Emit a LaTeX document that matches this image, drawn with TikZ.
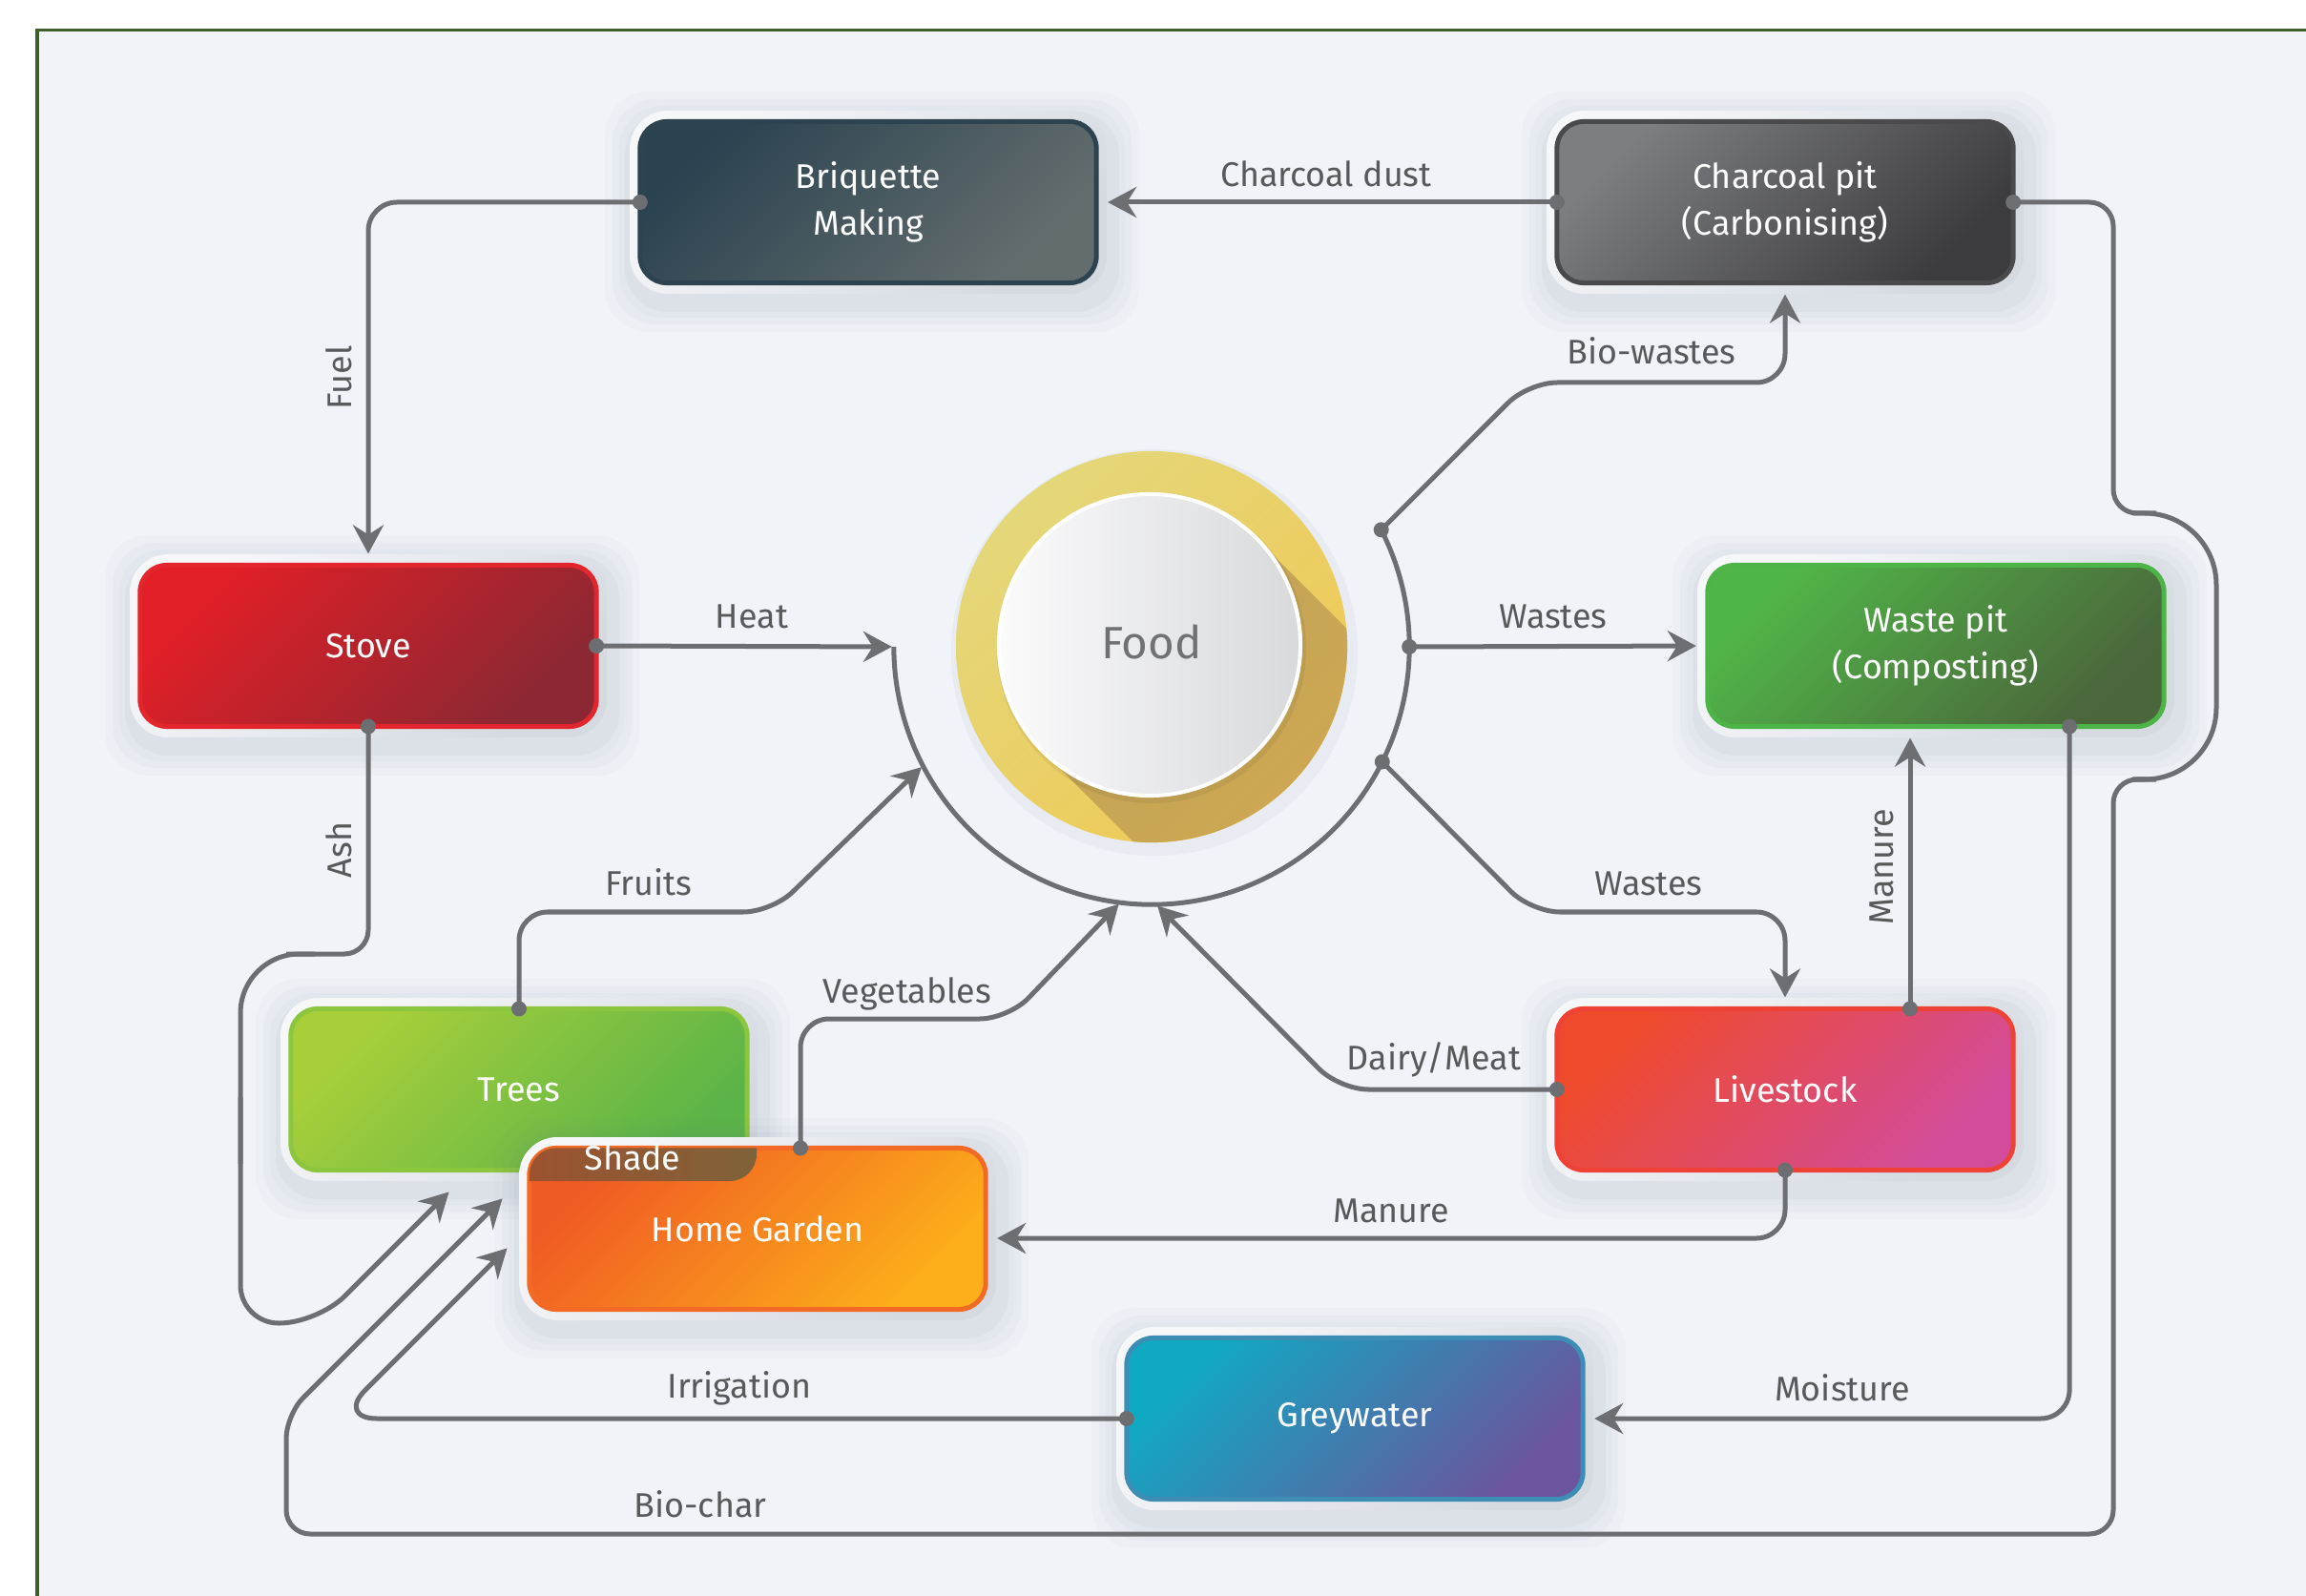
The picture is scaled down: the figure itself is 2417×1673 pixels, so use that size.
\documentclass[tikz,border=0pt]{standalone}
\usepackage{fontspec}
\setmainfont{Fira Sans}
\usetikzlibrary{arrows.meta,calc}
\definecolor{bgc}{HTML}{F0F4F8}
\definecolor{framec}{HTML}{3E5E2C}
\definecolor{linec}{HTML}{6D6E71}
\definecolor{labc}{HTML}{58595B}
\definecolor{haloA}{HTML}{F6F7F9}
\definecolor{haloB}{HTML}{D5DAE1}
\definecolor{shadowc}{HTML}{5A6A85}
\definecolor{yelA}{HTML}{E4D77A}
\definecolor{yelB}{HTML}{F1E56B}
\definecolor{yelC}{HTML}{F0C955}
\definecolor{shdA}{HTML}{BFA457}
\definecolor{shdB}{HTML}{D9AA50}
\definecolor{plateA}{HTML}{FBFBFC}
\definecolor{plateB}{HTML}{D8D9DB}
\definecolor{foodc}{HTML}{707173}
\definecolor{tabA}{HTML}{A24F2D}
\definecolor{tabB}{HTML}{7F6239}
\definecolor{brqA}{HTML}{2B4350}\definecolor{brqB}{HTML}{646D6E}\definecolor{brqD}{HTML}{2E4350}
\definecolor{chaA}{HTML}{7D7E81}\definecolor{chaB}{HTML}{3C3C3F}\definecolor{chaD}{HTML}{4A4A4D}
\definecolor{stoA}{HTML}{E21F26}\definecolor{stoB}{HTML}{8B2833}\definecolor{stoD}{HTML}{E3262D}
\definecolor{wpiA}{HTML}{50B548}\definecolor{wpiB}{HTML}{4B663B}\definecolor{wpiD}{HTML}{4DB447}
\definecolor{treA}{HTML}{A8CF3A}\definecolor{treB}{HTML}{5BB448}\definecolor{treD}{HTML}{8CC63F}
\definecolor{hgaA}{HTML}{F05A24}\definecolor{hgaB}{HTML}{FCAF1A}\definecolor{hgaD}{HTML}{F26A26}
\definecolor{livA}{HTML}{EF4A2B}\definecolor{livB}{HTML}{D24C9B}\definecolor{livD}{HTML}{EE4237}
\definecolor{greA}{HTML}{10A9C2}\definecolor{greB}{HTML}{6B559E}\definecolor{greD}{HTML}{3D8DB5}
\newcommand\boxfont{\fontsize{10.2}{13.9}\selectfont}
\newcommand\labfont{\fontsize{10.2}{12}\selectfont}
% halo + soft shadow behind a box centred at (#1,#2)
\newcommand\halobox[2]{%
  \foreach \e/\o in {30/0.025, 22/0.03, 15/0.035, 9/0.04}{%
    \fill[shadowc, opacity=\o, rounded corners=0.45cm]
      (#1-250-\e+4,#2-96-\e+10) rectangle (#1+250+\e+4,#2+96+\e+10);}
  \shade[top color=haloA, bottom color=haloB, shading angle=45, rounded corners=0.4cm]
    (#1-250,#2-96) rectangle (#1+250,#2+96);
}
\begin{document}
\begin{tikzpicture}[x=0.01cm,y=-0.01cm,
  box/.style={rectangle, rounded corners=0.28cm, minimum width=4.78cm, minimum height=1.69cm,
    inner sep=0pt, outer sep=0pt, align=center, text=white, font=\boxfont, line width=0.05cm},
  boxgrad/.style n args={3}{top color=#1, bottom color=#2, shading angle=45, draw=#3},
  conn/.style={draw=linec, line width=0.05cm, rounded corners=0.3cm},
  arr/.style={-{Stealth[length=0.3cm,width=0.32cm,inset=0.1cm]}, shorten >=0.12cm},
  arrc/.style={-{Stealth[length=0.3cm,width=0.32cm,inset=0.1cm]}, shorten >=0.02cm},
  lab/.style={text=labc, font=\labfont, inner sep=0pt}
]
\useasboundingbox (0,0) rectangle (2417,1673);
\fill[white] (0,0) rectangle (2417,1673);
\fill[bgc] (39,32) rectangle (2417,1673);
\draw[framec, line width=0.03cm] (39,1673) -- (39,32) -- (2417,32);

% ---------- Food ----------
\coordinate (food) at (1207,678);
\coordinate (ic) at (1205,676);
\fill[shadowc, opacity=0.05] ($(food)+(0.03cm,-0.06cm)$) circle[radius=2.13cm];
\begin{scope}
  \clip (food) circle[radius=2.05cm];
  \shade[top color=yelA, middle color=yelB, bottom color=yelC, shading angle=45] (food) circle[radius=2.05cm];
  \shade[top color=shdA, bottom color=shdB, shading angle=45]
    ($(ic)+(45:1.58cm)$) -- ($(ic)+(45:1.58cm)+(260,260)$) -- ($(ic)+(225:1.58cm)+(260,260)$) -- ($(ic)+(225:1.58cm)$) -- cycle;
\end{scope}
\fill[black, opacity=0.06] ($(ic)+(0.02cm,-0.04cm)$) circle[radius=1.62cm];
\shadedraw[left color=plateA, right color=plateB, draw=white, line width=0.04cm] (ic) circle[radius=1.58cm];
\node[text=foodc, font=\fontsize{13.5}{16}\selectfont] (foodlab) at (1207,673) {Food};

\draw[draw=linec, line width=0.05cm] ($(food)+(27:2.7cm)$) arc[start angle=27, end angle=-180, radius=2.7cm];
\coordinate (a27) at ($(food)+(27:2.7cm)$);
\coordinate (a0) at ($(food)+(0:2.7cm)$);
\coordinate (am26) at ($(food)+(-26.5:2.7cm)$);
\coordinate (a180) at ($(food)+(180:2.7cm)$);
\coordinate (a207) at ($(food)+(207.5:2.7cm)$);
\coordinate (am97) at ($(food)+(-97:2.7cm)$);
\coordinate (am89) at ($(food)+(-89:2.7cm)$);

% ---------- Boxes ----------
\halobox{910}{212}
\node[box, boxgrad={brqA}{brqB}{brqD}] (brq) at (910,212) {Briquette\\Making};
\halobox{1871}{212}
\node[box, boxgrad={chaA}{chaB}{chaD}] (char) at (1871,212) {Charcoal pit\\(Carbonising)};
\halobox{386}{677}
\node[box, boxgrad={stoA}{stoB}{stoD}] (stove) at (386,677) {Stove};
\halobox{2029}{677}
\node[box, boxgrad={wpiA}{wpiB}{wpiD}] (wpit) at (2029,677) {Waste pit\\(Composting)};
\halobox{544}{1142}
\node[box, boxgrad={treA}{treB}{treD}] (trees) at (544,1142) {Trees};
\halobox{794}{1288}
\node[box, boxgrad={hgaA}{hgaB}{hgaD}] (hg) at (794,1288) {Home Garden};
\halobox{1871}{1142}
\node[box, boxgrad={livA}{livB}{livD}] (live) at (1871,1142) {Livestock};
\halobox{1420}{1487}
\node[box, boxgrad={greA}{greB}{greD}] (grey) at (1420,1487) {Greywater};

\begin{scope}
  \clip[rounded corners=0.28cm] (hg.north west) rectangle (hg.south east);
  \shade[left color=tabA, right color=tabB, rounded corners=0.28cm] (500,1150) rectangle (793,1238);
\end{scope}
\node[text=white, font=\boxfont] (shadelab) at (663,1213) {Shade};

% ---------- helper coordinates ----------
\coordinate (mu1) at ([xshift=1.31cm]live.north);
\coordinate (mo1) at ([xshift=1.40cm]wpit.south);
\coordinate (vg) at ([xshift=0.45cm]hg.north);
\coordinate (ashT) at (472,1248);
\coordinate (bcT) at (528,1255);
\coordinate (irT) at (533,1307);

% ---------- Connectors ----------
\draw[conn, arr] (brq.west) -| (stove.north);
\draw[conn, arr] (char.west) -- (brq.east);
\draw[conn, arrc] (stove.east) -- (a180);
\draw[conn, arr] (a27) -- (1602,401) -| (char.south);
\draw[conn, arr] (a0) -- (wpit.west);
\draw[conn, arr] (am26) -- (1605,956) -| (live.north);
\draw[conn, arr] (mu1) -- (mu1 |- wpit.south);
\draw[conn, arr] (mo1) |- (grey.east);
\draw[conn, arr] (live.south) |- ([yshift=-0.1cm]hg.east);
\draw[conn, arrc] (live.west) -- (1404,1142) -- (am89);
\draw[conn, arrc] (trees.north) |- (809,956) -- (a207);
\draw[conn, arrc] (vg) |- (1057,1068) -- (am97);
\draw[conn, rounded corners=0.42cm, arrc] (grey.west) -- (353,1487) -- (irT);
% Ash
\draw[conn, rounded corners=0.25cm] (stove.south) -- (386,1000) -- (300,1000);
\draw[conn, rounded corners=0.62cm] (330,1000) -- (252,1000) -- (252,1220);
\draw[conn, rounded corners=0.4cm, arrc] (252,1150) -- (252,1387) -- (333,1387) -- (ashT);
% Bio-char
\draw[conn, rounded corners=0.25cm] (char.east) -- (2215,212) -- (2215,538) -- (2260,538);
\draw[conn, rounded corners=0.75cm] (2235,538) -- (2323,538) -- (2323,817) -- (2235,817);
\draw[conn, rounded corners=0.25cm, arrc] (2260,817) -- (2215,817) -- (2215,1608) -- (300,1608) -- (300,1483) -- (bcT);

% ---------- Dots ----------
\foreach \p in {brq.west, char.west, char.east, stove.east, stove.south, a27, a0, am26, mo1, mu1, live.west, live.south, trees.north, vg, grey.west}
  \fill[linec] (\p) circle[radius=0.08cm];

% ---------- Labels ----------
\node[lab] (lcd) at (1390,182) {Charcoal dust};
\node[lab] (lbw) at (1731,368) {Bio-wastes};
\node[lab] (lheat) at (788,646) {Heat};
\node[lab] (lw1) at (1628,646) {Wastes};
\node[lab, rotate=90] (lfuel) at (355,396) {Fuel};
\node[lab, rotate=90] (lash) at (355,891) {Ash};
\node[lab] (lfr) at (680,925) {Fruits};
\node[lab] (lw2) at (1728,926) {Wastes};
\node[lab, rotate=90] (lman1) at (1972,909) {Manure};
\node[lab] (lveg) at (951,1042) {Vegetables};
\node[lab] (ldm) at (1503,1111) {Dairy/Meat};
\node[lab] (lman2) at (1458,1269) {Manure};
\node[lab] (lirr) at (775,1455) {Irrigation};
\node[lab] (lmoi) at (1931,1455) {Moisture};
\node[lab] (lbc) at (734,1577) {Bio-char};
\end{tikzpicture}
\end{document}
